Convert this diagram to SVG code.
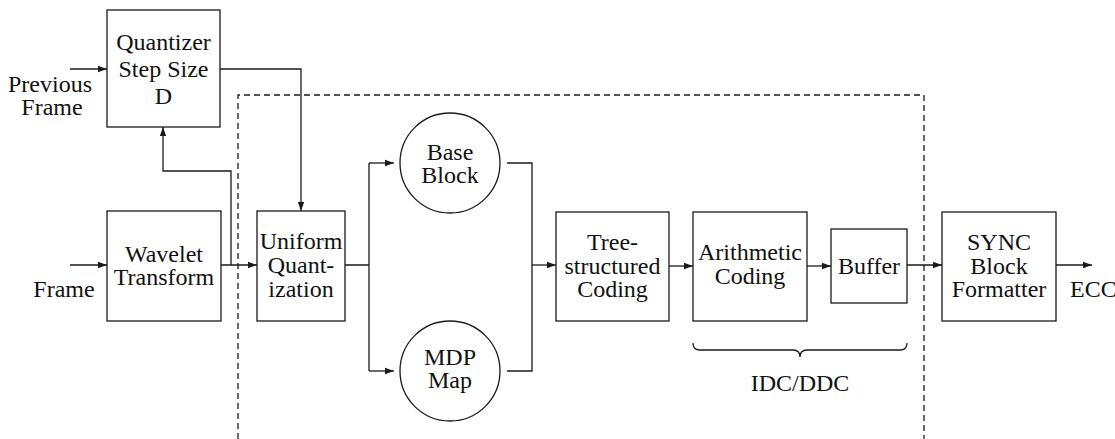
<svg xmlns="http://www.w3.org/2000/svg" width="1115" height="439" viewBox="0 0 1115 439">
  <defs>
    <marker id="arrow" viewBox="0 0 10 10" refX="10" refY="5" markerWidth="9" markerHeight="9" markerUnits="userSpaceOnUse" orient="auto">
      <path d="M0,1.5 L10,5 L0,8.5 Z" fill="#1a1a1a"/>
    </marker>
  </defs>
  <style>
    .box { fill: #fff; stroke: #1a1a1a; stroke-width: 1.3; }
    .txt { font-family: "Liberation Serif", "Times New Roman", serif; font-size: 24px; fill: #111; text-anchor: middle; }
    .lbl { font-family: "Liberation Serif", "Times New Roman", serif; font-size: 24px; fill: #111; }
    .wire { fill: none; stroke: #1a1a1a; stroke-width: 1.3; }
    .arr { marker-end: url(#arrow); }
    .dash { fill: none; stroke: #1a1a1a; stroke-width: 1.3; stroke-dasharray: 6 4; }
  </style>
  <rect width="1115" height="439" fill="#fff"/>

  <!-- encoder boundary -->
  <path class="dash" d="M238,439 V95 H924 V439"/>

  <g id="connectors">
    <path class="wire arr" d="M70,69 H107"/>
    <path class="wire arr" d="M220,69 H301 V211"/>
    <path class="wire arr" d="M70,265 H107"/>
    <path class="wire arr" d="M221,265 H257"/>
    <path class="wire arr" d="M231,265 V171 H163 V127"/>
    <path class="wire" d="M345,265 H369 M369,163 V371"/>
    <path class="wire arr" d="M369,163 H394"/>
    <path class="wire arr" d="M369,371 H394"/>
    <path class="wire" d="M507,163 H532 V371 H507"/>
    <path class="wire arr" d="M532,265 H556"/>
    <path class="wire arr" d="M669,266 H693"/>
    <path class="wire arr" d="M807,266 H831"/>
    <path class="wire arr" d="M907,265 H942"/>
    <path class="wire arr" d="M1056,265 H1092"/>
  </g>

  <g id="input-previous">
    <text class="txt" x="50" y="92">Previous</text>
    <text class="txt" x="52" y="115">Frame</text>
  </g>
  <g id="input-frame">
    <text class="txt" x="64" y="297">Frame</text>
  </g>

  <g id="quantizer-step">
    <rect class="box" x="107" y="10" width="113" height="117"/>
    <text class="txt" x="163.5" y="50">Quantizer</text>
    <text class="txt" x="163.5" y="77">Step Size</text>
    <text class="txt" x="163.5" y="104">D</text>
  </g>

  <g id="wavelet">
    <rect class="box" x="107" y="211" width="114" height="110"/>
    <text class="txt" x="164" y="262">Wavelet</text>
    <text class="txt" x="164" y="285">Transform</text>
  </g>

  <g id="uniform-quant">
    <rect class="box" x="257" y="211" width="88" height="110"/>
    <text class="txt" x="301" y="249">Uniform</text>
    <text class="txt" x="301" y="273">Quant-</text>
    <text class="txt" x="301" y="297">ization</text>
  </g>

  <g id="base-block">
    <circle class="box" cx="450" cy="163" r="50"/>
    <text class="txt" x="450" y="160">Base</text>
    <text class="txt" x="450" y="183">Block</text>
  </g>

  <g id="mdp-map">
    <circle class="box" cx="450" cy="371" r="50"/>
    <text class="txt" x="450" y="365">MDP</text>
    <text class="txt" x="450" y="388">Map</text>
  </g>

  <g id="tree-coding">
    <rect class="box" x="556" y="212" width="113" height="109"/>
    <text class="txt" x="612.5" y="250">Tree-</text>
    <text class="txt" x="612.5" y="274">structured</text>
    <text class="txt" x="612.5" y="297">Coding</text>
  </g>

  <g id="arith-coding">
    <rect class="box" x="693" y="212" width="114" height="109"/>
    <text class="txt" x="750" y="260">Arithmetic</text>
    <text class="txt" x="750" y="284">Coding</text>
  </g>

  <g id="buffer">
    <rect class="box" x="831" y="229" width="76" height="74"/>
    <text class="txt" x="869" y="274">Buffer</text>
  </g>

  <g id="sync-formatter">
    <rect class="box" x="942" y="212" width="114" height="109"/>
    <text class="txt" x="999" y="250">SYNC</text>
    <text class="txt" x="999" y="274">Block</text>
    <text class="txt" x="999" y="297">Formatter</text>
  </g>

  <g id="output-ecc">
    <text class="lbl" x="1070" y="297">ECC</text>
  </g>

  <g id="idc-ddc">
    <path class="wire" d="M693,343 Q693,350 700,350 H793 Q800,350 800,357 Q800,350 807,350 H900 Q907,350 907,343"/>
    <text class="txt" x="800" y="391">IDC/DDC</text>
  </g>
</svg>
